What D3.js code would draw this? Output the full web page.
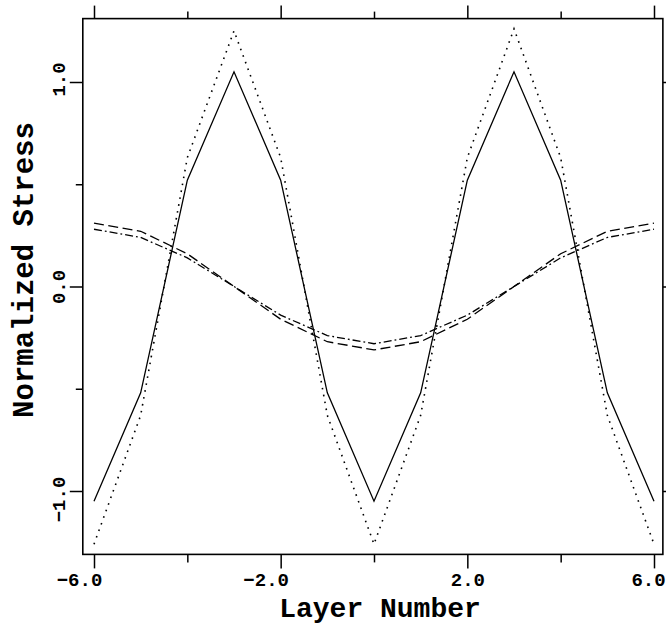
<!DOCTYPE html>
<html>
<head>
<meta charset="utf-8">
<script src="https://cdn.jsdelivr.net/npm/d3@7"></script>
<style>
  body { margin: 0; background: #fff; }
  svg { display: block; }
  text { font-family: "Courier New", "Liberation Mono", monospace; font-weight: bold; fill: #000; }
</style>
</head>
<body>
<div id="chart"></div>
<script>
// layer positions and normalized stress for the four curves
const layers = [-6, -5, -4, -3, -2, -1, 0, 1, 2, 3, 4, 5, 6];
const solidStress = [-1.05, -0.52, 0.52, 1.05, 0.52, -0.52, -1.05, -0.52, 0.52, 1.05, 0.52, -0.52, -1.05];
const dottedStress = [-1.26, -0.63, 0.63, 1.25, 0.63, -0.63, -1.26, -0.63, 0.63, 1.26, 0.63, -0.63, -1.26];
const dashedStress = [0.31, 0.27, 0.16, 0.0, -0.16, -0.27, -0.31, -0.27, -0.16, 0.0, 0.16, 0.27, 0.31];
const dashDotStress = [0.28, 0.24, 0.14, 0.0, -0.14, -0.24, -0.28, -0.24, -0.14, 0.0, 0.14, 0.24, 0.28];

const xMajorTicks = [-6, -2, 2, 6];
const xMinorTicks = [-4, 0, 4];
const yMajorTicks = [-1, 0, 1];
const yMinorTicks = [-0.5, 0.5];

const W = 666, H = 627;
const svg = d3.select('#chart').append('svg')
    .attr('width', W)
    .attr('height', H);

const x = d3.scaleLinear().domain([-6, 6]).range([94, 654]);
const y = d3.scaleLinear().domain([-1, 1]).range([491, 82]);

// plot frame edges
const frameL = x(-6.24), frameR = x(6.19), frameT = y(1.31), frameB = y(-1.31);

const fmt = d3.format('.1f');

// axes
function styleAxis(g) {
    g.select('.domain').remove();
    g.selectAll('.tick line').attr('stroke', '#000').attr('stroke-width', 1.5);
}

svg.append('g')
    .attr('transform', `translate(0,${frameB})`)
    .call(d3.axisBottom(x).tickValues(xMajorTicks).tickSize(14).tickPadding(4.5).tickFormat(fmt))
    .call(styleAxis)
    .call(g => g.selectAll('text')
        .attr('font-size', 19)
        .attr('font-family', '"Courier New", "Liberation Mono", monospace')
        .attr('font-weight', 'bold')
        .attr('dx', d => d < 0 ? -15 : (d === 6 ? -6 : 0)));

svg.append('g')
    .attr('transform', `translate(0,${frameB})`)
    .call(d3.axisBottom(x).tickValues(xMinorTicks).tickSize(8).tickFormat(''))
    .call(styleAxis);

svg.append('g')
    .attr('transform', `translate(0,${frameT})`)
    .call(d3.axisTop(x).tickValues(xMajorTicks).tickSize(13).tickFormat(''))
    .call(styleAxis);

svg.append('g')
    .attr('transform', `translate(0,${frameT})`)
    .call(d3.axisTop(x).tickValues(xMinorTicks).tickSize(7).tickFormat(''))
    .call(styleAxis);

svg.append('g')
    .attr('transform', `translate(${frameL},0)`)
    .call(d3.axisLeft(y).tickValues(yMajorTicks).tickSize(13).tickFormat(fmt))
    .call(styleAxis)
    .call(g => g.selectAll('text')
        .attr('x', null).attr('dy', null)
        .attr('text-anchor', 'middle')
        .attr('font-size', 19)
        .attr('font-family', '"Courier New", "Liberation Mono", monospace')
        .attr('font-weight', 'bold')
        .attr('transform', d => `translate(-18,${d < 0 ? 8 : (d > 0 ? -3 : 0)}) rotate(-90)`));

svg.append('g')
    .attr('transform', `translate(${frameL},0)`)
    .call(d3.axisLeft(y).tickValues(yMinorTicks).tickSize(7).tickFormat(''))
    .call(styleAxis);

svg.append('g')
    .attr('transform', `translate(${frameR},0)`)
    .call(d3.axisRight(y).tickValues(yMajorTicks).tickSize(13).tickFormat(''))
    .call(styleAxis);

// frame
svg.append('rect')
    .attr('x', frameL)
    .attr('y', frameT)
    .attr('width', frameR - frameL)
    .attr('height', frameB - frameT)
    .attr('fill', 'none')
    .attr('stroke', '#000')
    .attr('stroke-width', 1.6);

// curves
const line = d3.line()
    .x(d => x(d[0]))
    .y(d => y(d[1]));

const series = [
    {values: dashedStress, dash: '10,4.5', width: 1.3},
    {values: dashDotStress, dash: '8,3,1.8,3', width: 1.3},
    {values: dottedStress, dash: '1.6,5.4', width: 1.6},
    {values: solidStress, dash: null, width: 1.3}
];

svg.selectAll('.curve')
    .data(series)
    .enter()
    .append('path')
    .attr('class', 'curve')
    .attr('d', s => line(layers.map((l, i) => [l, s.values[i]])))
    .attr('fill', 'none')
    .attr('stroke', '#000')
    .attr('stroke-width', s => s.width)
    .attr('stroke-dasharray', s => s.dash);

// axis titles
svg.append('text')
    .attr('x', 380)
    .attr('y', 617)
    .attr('text-anchor', 'middle')
    .attr('font-size', 28)
    .text('Layer Number');

svg.append('text')
    .attr('transform', `translate(33,270) rotate(-90)`)
    .attr('text-anchor', 'middle')
    .attr('font-size', 29)
    .text('Normalized Stress');
</script>
</body>
</html>
